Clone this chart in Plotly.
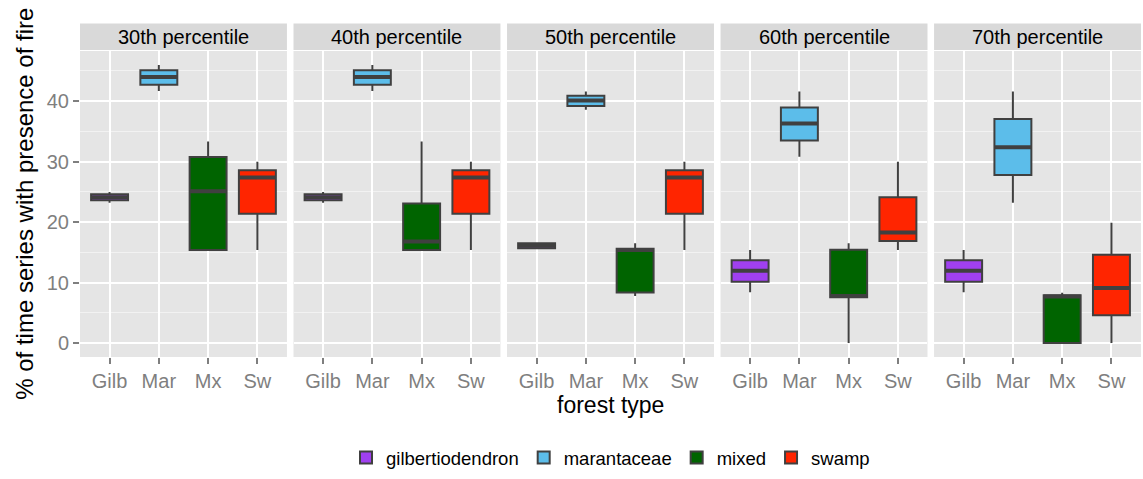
import plotly.graph_objects as go
from plotly.subplots import make_subplots

panels = ["30th percentile", "40th percentile", "50th percentile", "60th percentile", "70th percentile"]
categories = ["Gilb", "Mar", "Mx", "Sw"]
types = ["gilbertiodendron", "marantaceae", "mixed", "swamp"]
colors = ["#A040F0", "#5CBDEA", "#006400", "#FF2500"]

# box statistics per forest type, one value per panel (30th..70th)
gilb_lo = [23.2, 23.2, 15.5, 8.4, 8.4]
gilb_q1 = [23.6, 23.6, 15.7, 10.15, 10.15]
gilb_med = [24.1, 24.1, 16.1, 11.95, 11.95]
gilb_q3 = [24.6, 24.6, 16.5, 13.7, 13.7]
gilb_hi = [25.0, 25.0, 16.6, 15.38, 15.38]

mar_lo = [41.7, 41.7, 38.6, 30.8, 23.2]
mar_q1 = [42.7, 42.7, 39.2, 33.5, 27.8]
mar_med = [44.0, 44.0, 40.1, 36.3, 32.4]
mar_q3 = [45.1, 45.1, 40.9, 38.95, 37.05]
mar_hi = [46.0, 46.0, 41.6, 41.6, 41.6]

mx_lo = [15.38, 15.38, 7.8, 0.0, 0.0]
mx_q1 = [15.38, 15.38, 8.35, 7.6, 0.0]
mx_med = [25.1, 16.8, 15.4, 7.8, 7.69]
mx_q3 = [30.77, 23.08, 15.6, 15.45, 7.9]
mx_hi = [33.33, 33.33, 16.5, 16.5, 8.33]

sw_lo = [15.38, 15.38, 15.38, 15.38, 0.0]
sw_q1 = [21.4, 21.4, 21.4, 16.9, 4.6]
sw_med = [27.4, 27.4, 27.4, 18.3, 9.1]
sw_q3 = [28.6, 28.6, 28.6, 24.1, 14.6]
sw_hi = [30.0, 30.0, 30.0, 30.0, 19.9]

stats = [
    (gilb_lo, gilb_q1, gilb_med, gilb_q3, gilb_hi),
    (mar_lo, mar_q1, mar_med, mar_q3, mar_hi),
    (mx_lo, mx_q1, mx_med, mx_q3, mx_hi),
    (sw_lo, sw_q1, sw_med, sw_q3, sw_hi),
]

y_ticks = [0, 10, 20, 30, 40]

FONT = "Liberation Sans, Arial, Helvetica, sans-serif"
OUTLINE = "#404040"
BOXW = 0.75

fig = make_subplots(rows=1, cols=5, shared_yaxes=True, horizontal_spacing=0.0062)

for p in range(len(panels)):
    for t in range(len(types)):
        lo, q1, med, q3, hi = stats[t]
        xpos = t + 1
        fig.add_trace(go.Box(
            x=[xpos], q1=[q1[p]], median=[med[p]], q3=[q3[p]],
            lowerfence=[lo[p]], upperfence=[hi[p]],
            name=types[t], legendgroup=types[t], showlegend=(p == 0),
            fillcolor=colors[t], line=dict(color=OUTLINE, width=2),
            width=BOXW, whiskerwidth=0, boxpoints=False, hoverinfo="skip",
        ), row=1, col=p + 1)
        # thicker median line (ggplot style)
        fig.add_trace(go.Scatter(
            x=[xpos - BOXW / 2, xpos + BOXW / 2], y=[med[p], med[p]],
            mode="lines", line=dict(color=OUTLINE, width=4),
            showlegend=False, hoverinfo="skip", legendgroup=types[t],
        ), row=1, col=p + 1)

for p in range(len(panels)):
    xa = "xaxis" if p == 0 else f"xaxis{p+1}"
    fig.layout[xa].update(
        range=[0.4, 4.6], tickvals=[1, 2, 3, 4], ticktext=categories,
        showgrid=True, gridcolor="white", gridwidth=2, zeroline=False,
        ticks="outside", ticklen=6, tickwidth=1.5, tickcolor="#7F7F7F",
        tickfont=dict(family=FONT, size=20, color="#7F7F7F"), showline=False,
    )
    ya = "yaxis" if p == 0 else f"yaxis{p+1}"
    fig.layout[ya].update(
        range=[-2.3, 48.3], tickvals=y_ticks, showgrid=True, gridcolor="white",
        gridwidth=2, zeroline=False,
        minor=dict(dtick=5, tick0=5, showgrid=True, gridcolor="#F2F2F2", gridwidth=1, ticks=""),
    )
    if p == 0:
        fig.layout[ya].update(
            ticks="outside", ticklen=6, tickwidth=1.5, tickcolor="#7F7F7F",
            tickfont=dict(family=FONT, size=20, color="#7F7F7F"),
        )
    # strip
    dom = fig.layout[xa].domain
    fig.add_shape(type="rect", xref="paper", yref="paper", x0=dom[0], x1=dom[1],
                  y0=1.003, y1=1.09, fillcolor="#D9D9D9", line=dict(width=0), layer="below")
    fig.add_annotation(text=panels[p], xref="paper", yref="paper", x=(dom[0] + dom[1]) / 2,
                       y=1.046, showarrow=False, xanchor="center", yanchor="middle",
                       font=dict(family=FONT, size=20, color="black"))

fig.add_annotation(text="forest type", xref="paper", yref="paper", x=0.5, y=-0.158,
                   showarrow=False, xanchor="center", yanchor="middle",
                   font=dict(family=FONT, size=23, color="black"))
fig.add_annotation(text="% of time series with presence of fire", xref="paper", yref="paper",
                   x=-0.053, y=0.5, textangle=-90, showarrow=False, xanchor="center", yanchor="middle",
                   font=dict(family=FONT, size=24, color="black"))

fig.update_layout(
    width=1143, height=479,
    margin=dict(l=80, r=2, t=51, b=119),
    paper_bgcolor="white", plot_bgcolor="#E5E5E5",
    boxmode="overlay",
    showlegend=True,
    legend=dict(orientation="h", x=0.5, xanchor="center", y=-0.33, yanchor="middle",
                font=dict(family=FONT, size=18.5, color="black"), itemwidth=30,
                bgcolor="rgba(0,0,0,0)"),
)

fig.write_html("out.html")
